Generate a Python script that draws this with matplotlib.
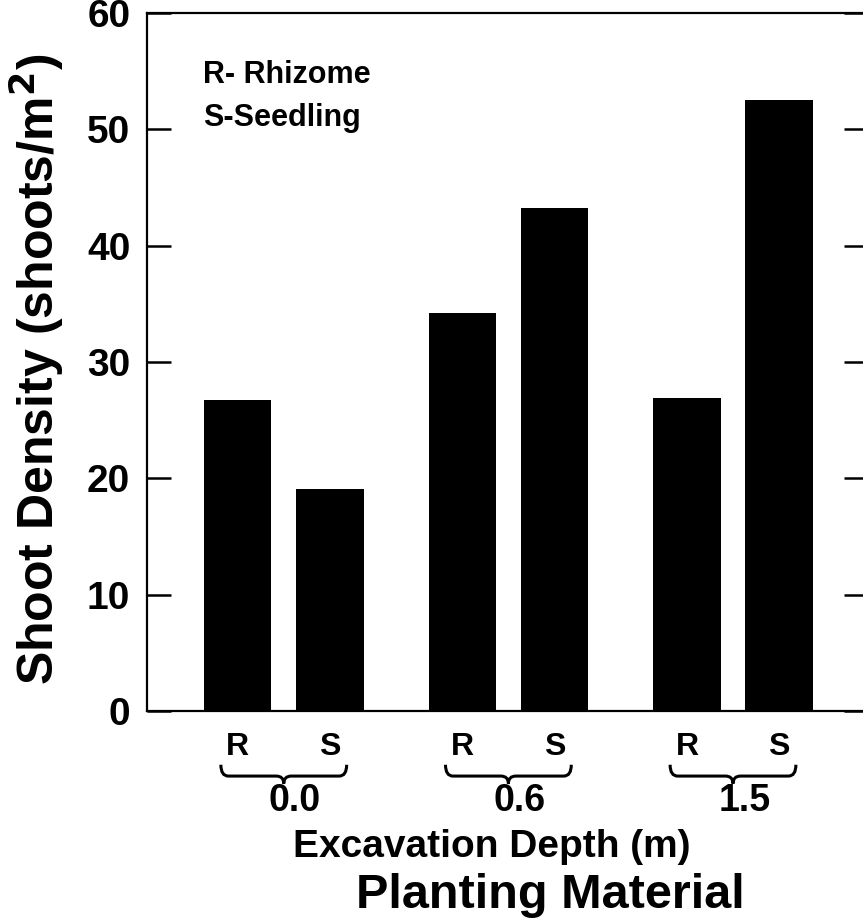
import numpy as np
import matplotlib
matplotlib.use("Agg")
import matplotlib.pyplot as plt
from matplotlib.path import Path
from matplotlib.patches import PathPatch
import matplotlib.transforms as mtransforms

# data
depths = ["0.0", "0.6", "1.5"]
materials = ["R", "S"]
rhizome = [26.7, 34.2, 26.9]
seedling = [19.1, 43.2, 52.5]
yticks = [0, 10, 20, 30, 40, 50, 60]

plt.rcParams["font.family"] = ["Liberation Sans", "DejaVu Sans"]
plt.rcParams["font.weight"] = "bold"


def brace(ax, xc, half, ytop, ybot, trans):
    """Draw a horizontal curly brace pointing down."""
    ymid = ytop + (ybot - ytop) * 0.6
    x0, x1 = xc - half, xc + half
    r = half * 0.12
    verts = [
        (x0, ytop), (x0, ymid), (x0 + r, ymid),
        (xc - r, ymid), (xc, ymid), (xc, ybot),
        (xc, ymid), (xc + r, ymid),
        (x1 - r, ymid), (x1, ymid), (x1, ytop),
    ]
    codes = [
        Path.MOVETO, Path.CURVE3, Path.CURVE3,
        Path.LINETO, Path.CURVE3, Path.CURVE3,
        Path.CURVE3, Path.CURVE3,
        Path.LINETO, Path.CURVE3, Path.CURVE3,
    ]
    patch = PathPatch(Path(verts, codes), fill=False, lw=2.2, color="black",
                      transform=trans, clip_on=False)
    ax.add_patch(patch)


def main():
    fig = plt.figure(figsize=(8.63, 9.24), dpi=100)
    ax = fig.add_axes([0.1703, 0.2305, 0.8355, 0.7554])

    x = np.arange(len(depths))
    off = 0.205
    width = 0.30
    ax.bar(x - off, rhizome, width, color="black")
    ax.bar(x + off, seedling, width, color="black")

    ax.set_xlim(-0.609, 2.601)
    ax.set_ylim(0, 60)
    ax.set_xticks([])
    ax.set_yticks(yticks)
    ax.tick_params(axis="y", which="both", direction="in", length=17, width=1.8,
                   labelsize=28, pad=12, right=True)
    for lab in ax.get_yticklabels():
        lab.set_fontweight("bold")
    ax.spines["right"].set_visible(False)
    for s in ["left", "top", "bottom"]:
        ax.spines[s].set_linewidth(1.6)

    ax.set_ylabel("Shoot Density (shoots/m$^\\mathbf{2}$)", fontsize=36,
                  fontweight="bold")
    ax.yaxis.set_label_coords(-0.112, 0.49)

    ax.text(0.0777, 0.911, "R- Rhizome", transform=ax.transAxes, fontsize=22,
            fontweight="bold", va="center", ha="left")
    ax.text(0.0777, 0.8496, "S-Seedling", transform=ax.transAxes, fontsize=22,
            fontweight="bold", va="center", ha="left")

    trans = mtransforms.blended_transform_factory(ax.transData, ax.transAxes)
    for i, d in enumerate(depths):
        for j, m in enumerate(materials):
            xp = x[i] + (off if j else -off)
            ax.text(xp, -0.052, m, transform=trans, fontsize=23,
                    fontweight="bold", ha="center", va="center")
        brace(ax, x[i], 0.28, -0.077, -0.104, trans)
        ax.text(x[i] + 0.05, -0.1285, d, transform=trans, fontsize=27,
                fontweight="bold", ha="center", va="center")

    ax.text(0.927, -0.195, "Excavation Depth (m)", transform=trans, fontsize=28,
            fontweight="bold", ha="center", va="center")
    ax.text(1.186, -0.2636, "Planting Material", transform=trans, fontsize=35,
            fontweight="bold", ha="center", va="center")

    fig.savefig("out.png", dpi=100)


if __name__ == "__main__":
    main()
